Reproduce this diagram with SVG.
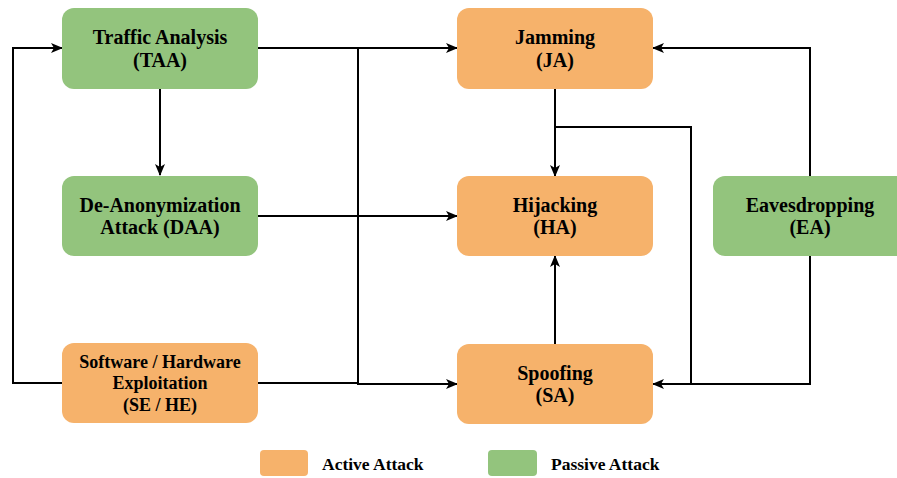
<svg xmlns="http://www.w3.org/2000/svg" width="897" height="478" viewBox="0 0 897 478">
<defs>
<marker id="arr" markerWidth="12" markerHeight="10" refX="11" refY="5" orient="auto" markerUnits="userSpaceOnUse">
<path d="M0,0 L12,5 L0,10 L3,5 Z" fill="#000"/>
</marker>
<style>
.g{fill:#93C47D}
.o{fill:#F6B26B}
.t{font-family:"Liberation Serif","Times New Roman",serif;font-weight:bold;font-size:20px;fill:#000;text-anchor:middle}
.s{font-size:18px}
.l{font-family:"Liberation Serif","Times New Roman",serif;font-weight:bold;font-size:17.5px;fill:#000}
.c{fill:none;stroke:#000;stroke-width:2}
</style>
</defs>
<rect width="897" height="478" fill="#fff"/>
<g id="connectors">
<path class="c" d="M258,48 H457" marker-end="url(#arr)"/>
<path class="c" d="M358,48 V384 H457" marker-end="url(#arr)"/>
<path class="c" d="M258,383 H358"/>
<path class="c" d="M258,216 H457" marker-end="url(#arr)"/>
<path class="c" d="M62,383 H13 V48 H62" marker-end="url(#arr)"/>
<path class="c" d="M160,89 V175" marker-end="url(#arr)"/>
<path class="c" d="M555,89 V176" marker-end="url(#arr)"/>
<path class="c" d="M555,127 H691 V384 H653" marker-end="url(#arr)"/>
<path class="c" d="M810,176 V48 H653" marker-end="url(#arr)"/>
<path class="c" d="M810,256 V384 H691"/>
<path class="c" d="M555,344 V256" marker-end="url(#arr)"/>
</g>
<g id="taa"><rect class="g" x="62" y="8" width="196" height="81" rx="12"/><text class="t" x="160" y="44">Traffic Analysis</text><text class="t" x="160" y="67">(TAA)</text></g>
<g id="daa"><rect class="g" x="62" y="176" width="196" height="80" rx="12"/><text class="t" x="160" y="212">De-Anonymization</text><text class="t" x="160" y="234">Attack (DAA)</text></g>
<g id="sehe"><rect class="o" x="62" y="343" width="196" height="80" rx="12"/><text class="t s" x="160" y="368">Software / Hardware</text><text class="t s" x="160" y="389">Exploitation</text><text class="t s" x="160" y="411">(SE / HE)</text></g>
<g id="ja"><rect class="o" x="457" y="8" width="196" height="81" rx="12"/><text class="t" x="555" y="44">Jamming</text><text class="t" x="555" y="67">(JA)</text></g>
<g id="ha"><rect class="o" x="457" y="176" width="196" height="80" rx="12"/><text class="t" x="555" y="212">Hijacking</text><text class="t" x="555" y="234">(HA)</text></g>
<g id="sa"><rect class="o" x="457" y="344" width="196" height="80" rx="12"/><text class="t" x="555" y="380">Spoofing</text><text class="t" x="555" y="402">(SA)</text></g>
<g id="ea"><rect class="g" x="713" y="176" width="196" height="80" rx="12"/><text class="t" x="810" y="212">Eavesdropping</text><text class="t" x="810" y="234">(EA)</text></g>
<g id="legend">
<rect class="o" x="260" y="450" width="48" height="26" rx="4"/><text class="l" x="322" y="470">Active Attack</text>
<rect class="g" x="488" y="450" width="49" height="26" rx="4"/><text class="l" x="551" y="470">Passive Attack</text>
</g>
</svg>
